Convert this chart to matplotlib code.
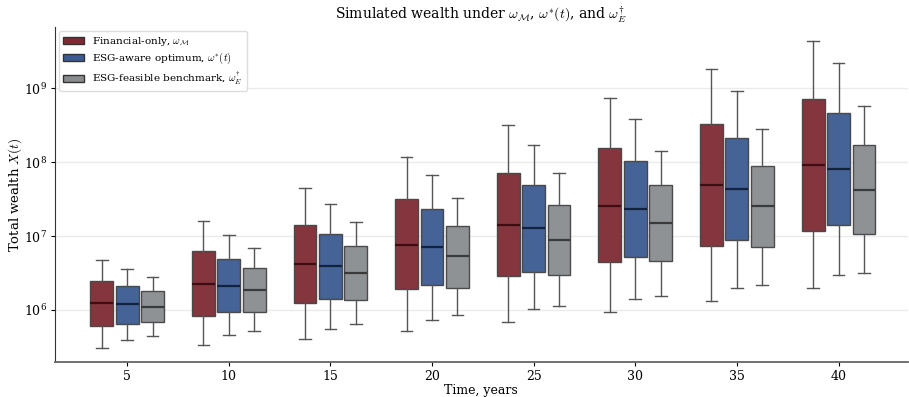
import numpy as np
import matplotlib
matplotlib.use("Agg")
import matplotlib.pyplot as plt
from matplotlib.patches import Patch

plt.rcParams['font.family'] = 'DejaVu Serif'
plt.rcParams['mathtext.fontset'] = 'cm'

years = [5, 10, 15, 20, 25, 30, 35, 40]

# (whislo, q1, med, q3, whishi) per horizon
fin_only = [
    (3.1e5, 6.0e5, 1.23e6, 2.5e6, 4.8e6),
    (3.4e5, 8.3e5, 2.27e6, 6.3e6, 1.59e7),
    (4.05e5, 1.23e6, 4.2e6, 1.43e7, 4.5e7),
    (5.2e5, 1.9e6, 7.7e6, 3.2e7, 1.18e8),
    (6.9e5, 2.86e6, 1.43e7, 7.2e7, 3.2e8),
    (9.3e5, 4.5e6, 2.59e7, 1.57e8, 7.5e8),
    (1.34e6, 7.4e6, 4.9e7, 3.34e8, 1.85e9),
    (1.99e6, 1.16e7, 9.1e7, 7.2e8, 4.37e9),
]
esg_opt = [
    (3.9e5, 6.5e5, 1.19e6, 2.1e6, 3.6e6),
    (4.6e5, 9.5e5, 2.13e6, 4.9e6, 1.05e7),
    (5.6e5, 1.41e6, 3.9e6, 1.08e7, 2.75e7),
    (7.4e5, 2.18e6, 7.1e6, 2.34e7, 6.7e7),
    (1.02e6, 3.3e6, 1.29e7, 4.9e7, 1.71e8),
    (1.42e6, 5.2e6, 2.36e7, 1.04e8, 3.9e8),
    (1.99e6, 8.8e6, 4.4e7, 2.16e8, 9.3e8),
    (3.0e6, 1.42e7, 8.1e7, 4.7e8, 2.2e9),
]
esg_bench = [
    (4.4e5, 6.8e5, 1.1e6, 1.8e6, 2.8e6),
    (5.2e5, 9.5e5, 1.87e6, 3.7e6, 7.0e6),
    (6.4e5, 1.37e6, 3.14e6, 7.4e6, 1.54e7),
    (8.5e5, 2.0e6, 5.4e6, 1.37e7, 3.3e7),
    (1.13e6, 3.0e6, 8.8e6, 2.65e7, 7.2e7),
    (1.55e6, 4.6e6, 1.5e7, 4.99e7, 1.43e8),
    (2.18e6, 7.1e6, 2.56e7, 9.0e7, 2.86e8),
    (3.17e6, 1.07e7, 4.26e7, 1.74e8, 5.8e8),
]

series = [
    (fin_only, r'Financial-only, $\omega_{\mathcal{M}}$', '#7f2a32', '#3d0d12'),
    (esg_opt, r'ESG-aware optimum, $\omega^{*}(t)$', '#3b5b92', '#13223f'),
    (esg_bench, r'ESG-feasible benchmark, $\omega_{E}^{\dagger}$', '#898c8f', '#3a3a3a'),
]

fig = plt.figure(figsize=(9.09, 3.97), dpi=100)
ax = fig.add_axes([0.0605, 0.088, 0.938, 0.844])

x = np.arange(len(years))
offsets = [-0.25, 0.0, 0.25]
handles = []
for (data, label, fc, mc), off in zip(series, offsets):
    stats = []
    for lo, q1, med, q3, hi in data:
        stats.append(dict(whislo=lo, q1=q1, med=med, q3=q3, whishi=hi, fliers=[]))
    ax.bxp(stats, positions=x + off, widths=0.225, patch_artist=True,
           showfliers=False, capwidths=0.115,
           boxprops=dict(facecolor=fc, edgecolor='#444444', linewidth=1.0, alpha=0.95),
           medianprops=dict(color=mc, linewidth=1.6),
           whiskerprops=dict(color='#555555', linewidth=1.0),
           capprops=dict(color='#555555', linewidth=1.0))
    handles.append(Patch(facecolor=fc, edgecolor='#333333', label=label))

ax.set_yscale('log')
ax.set_ylim(1.97e5, 6.8e9)
ax.set_xlim(-0.71, 7.68)
ax.set_xticks(x)
ax.set_xticklabels([str(y) for y in years])
ax.yaxis.grid(True, which='major', color='#ebebeb', linewidth=1.0)
ax.minorticks_off()
ax.set_axisbelow(True)
ax.tick_params(labelsize=9, length=3, pad=2.5)

for s in ['top', 'right']:
    ax.spines[s].set_visible(False)
ax.spines['left'].set_color('#333333')
ax.spines['bottom'].set_color('#666666')
ax.spines['bottom'].set_linewidth(1.3)

ax.set_xlabel('Time, years', fontsize=9, labelpad=1)
ax.set_ylabel(r'Total wealth $X(t)$', fontsize=9.5, labelpad=0)
ax.set_title(r'Simulated wealth under $\omega_{\mathcal{M}}$, $\omega^{*}(t)$, and $\omega_{E}^{\dagger}$',
             fontsize=10)
ax.legend(handles=handles, loc='upper left', fontsize=7.5, frameon=True,
          edgecolor='#dddddd', framealpha=1.0, labelspacing=0.3,
          handlelength=2.0, handletextpad=0.8, borderaxespad=0.4)

fig.savefig('out.png', dpi=100)
